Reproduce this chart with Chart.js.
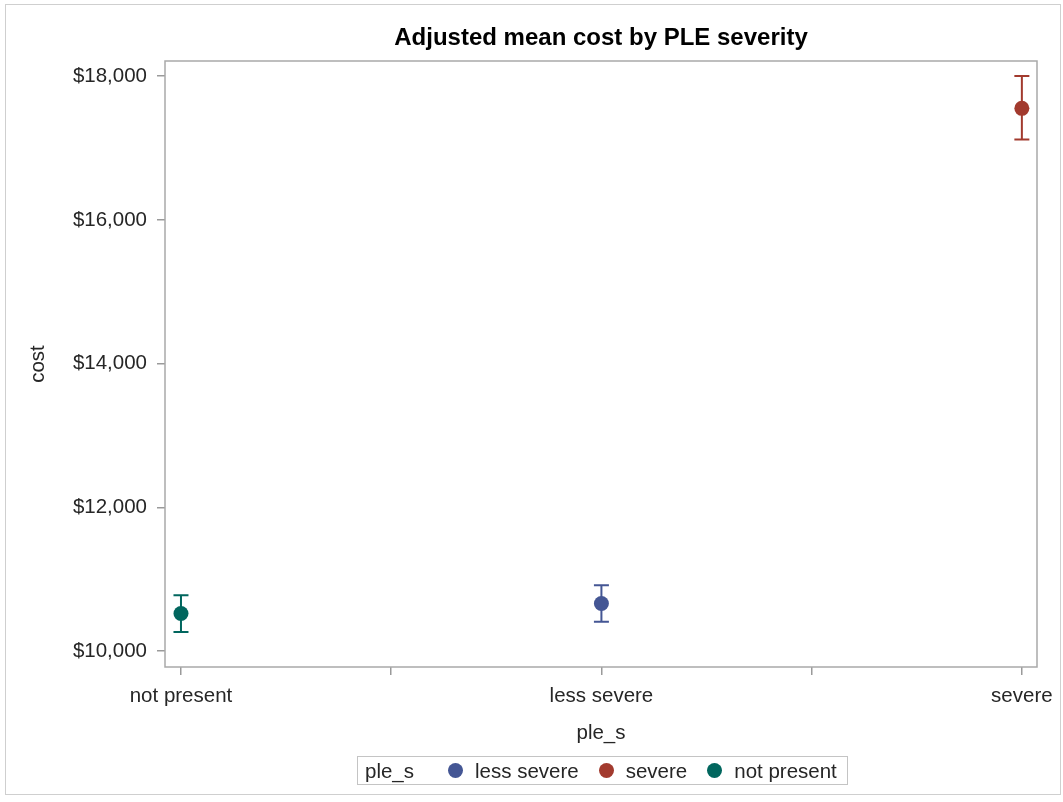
<!DOCTYPE html>
<html>
<head>
<meta charset="utf-8">
<script src="https://cdn.jsdelivr.net/npm/chart.js@4/dist/chart.umd.min.js"></script>
<style>
  html, body { margin: 0; padding: 0; background: #fff; }
  #wrap { position: relative; width: 1063px; height: 802px; }
  #frame { position: absolute; left: 5px; top: 4px; width: 1056px; height: 791px; border: 1px solid #cfcfcf; box-sizing: border-box; pointer-events: none; }
  canvas { position: absolute; left: 0; top: 0; }
  #legend {
    position: absolute; left: 357px; top: 756px; height: 29px; width: 491px;
    box-sizing: border-box; border: 1px solid #c4c4c4;
    display: flex; align-items: center; padding-left: 7px;
    font-family: "Liberation Sans", Arial, sans-serif; font-size: 20.5px; color: #262626;
    white-space: nowrap;
  }
  #legend .ttl { margin-right: 34px; }
  #legend .dot { width: 15px; height: 15px; border-radius: 50%; margin-right: 12px; flex: none; }
  #legend .lbl { margin-right: 20px; }
</style>
</head>
<body>
<div id="wrap">
  <canvas id="chart" width="1063" height="802"></canvas>
  <div id="frame"></div>
  <div id="legend"></div>
</div>
<script>
// Adjusted mean cost with 95% confidence limits, by PLE severity group
const categories = ['not present', 'less severe', 'severe'];
const meanCost = [10524, 10663, 17551];
const lowerCL = [10268, 10408, 17117];
const upperCL = [10779, 10918, 18000];
const seriesColors = ['#01665E', '#445694', '#A23A2E'];
const legendOrder = [1, 2, 0];
const yTicks = [10000, 12000, 14000, 16000, 18000];
const xTicks = [0, 0.5, 1, 1.5, 2];

const FONT = '"Liberation Sans", Arial, sans-serif';
const LABEL_COLOR = '#262626';

const datasets = categories.map((name, i) => ({
  label: name,
  data: [{ x: i, y: meanCost[i] }],
  backgroundColor: seriesColors[i],
  borderColor: seriesColors[i],
  pointRadius: 7.5,
  pointHoverRadius: 7.5,
  pointBorderWidth: 0
}));

// Confidence-limit whiskers, drawn beneath the markers
const errorBars = {
  id: 'errorBars',
  beforeDatasetsDraw(chart) {
    const { ctx, scales: { x, y } } = chart;
    ctx.save();
    categories.forEach((name, i) => {
      const px = x.getPixelForValue(i);
      const yLo = y.getPixelForValue(lowerCL[i]);
      const yHi = y.getPixelForValue(upperCL[i]);
      ctx.strokeStyle = seriesColors[i];
      ctx.lineWidth = 2;
      ctx.beginPath();
      ctx.moveTo(px, yLo); ctx.lineTo(px, yHi);
      ctx.moveTo(px - 7.5, yLo); ctx.lineTo(px + 7.5, yLo);
      ctx.moveTo(px - 7.5, yHi); ctx.lineTo(px + 7.5, yHi);
      ctx.stroke();
    });
    ctx.restore();
  }
};

// Box around the plotting region
const plotFrame = {
  id: 'plotFrame',
  beforeDatasetsDraw(chart) {
    const { ctx, chartArea: a } = chart;
    ctx.save();
    ctx.strokeStyle = '#a9a9a9';
    ctx.lineWidth = 1.5;
    ctx.strokeRect(a.left, a.top, a.right - a.left, a.bottom - a.top);
    ctx.restore();
  }
};

new Chart(document.getElementById('chart'), {
  type: 'scatter',
  data: { datasets },
  plugins: [plotFrame, errorBars],
  options: {
    responsive: false,
    animation: false,
    events: [],
    layout: { padding: { left: 0, right: 26, top: 0, bottom: 0 } },
    plugins: {
      legend: { display: false },
      tooltip: { enabled: false },
      title: {
        display: true,
        fullSize: false,
        text: 'Adjusted mean cost by PLE severity',
        color: '#000',
        font: { family: FONT, size: 24, weight: 'bold', lineHeight: 1.2 },
        padding: { top: 23.6, bottom: 8.6 }
      }
    },
    scales: {
      x: {
        type: 'linear',
        min: -0.038,
        max: 2.036,
        afterBuildTicks: s => { s.ticks = xTicks.map(v => ({ value: v })); },
        afterFit: s => { s.height = 135; },
        border: { display: false },
        grid: { drawOnChartArea: false, drawTicks: true, tickLength: 8, color: '#9a9a9a', lineWidth: 1.5 },
        ticks: {
          padding: 9,
          maxRotation: 0,
          autoSkip: false,
          color: LABEL_COLOR,
          font: { family: FONT, size: 20.5 },
          callback: v => Number.isInteger(v) ? categories[v] : ''
        },
        title: {
          display: true,
          text: 'ple_s',
          color: LABEL_COLOR,
          font: { family: FONT, size: 20.5 },
          padding: { top: 0, bottom: 56 }
        }
      },
      y: {
        min: 9780,
        max: 18210,
        afterBuildTicks: s => { s.ticks = yTicks.map(v => ({ value: v })); },
        afterFit: s => { s.width = 165; },
        border: { display: false },
        grid: { drawOnChartArea: false, drawTicks: true, tickLength: 8, color: '#9a9a9a', lineWidth: 1.5 },
        ticks: {
          padding: 10,
          color: LABEL_COLOR,
          font: { family: FONT, size: 20.5 },
          callback: v => '$' + v.toLocaleString('en-US')
        },
        title: {
          display: true,
          text: 'cost',
          color: LABEL_COLOR,
          font: { family: FONT, size: 20.5 },
          padding: { top: 26, bottom: 0 }
        }
      }
    }
  }
});

// Legend row built from the same series
const legend = document.getElementById('legend');
const ttl = document.createElement('span');
ttl.className = 'ttl';
ttl.textContent = 'ple_s';
legend.appendChild(ttl);
legendOrder.forEach(i => {
  const dot = document.createElement('span');
  dot.className = 'dot';
  dot.style.background = seriesColors[i];
  const lbl = document.createElement('span');
  lbl.className = 'lbl';
  lbl.textContent = categories[i];
  legend.appendChild(dot);
  legend.appendChild(lbl);
});
</script>
</body>
</html>
